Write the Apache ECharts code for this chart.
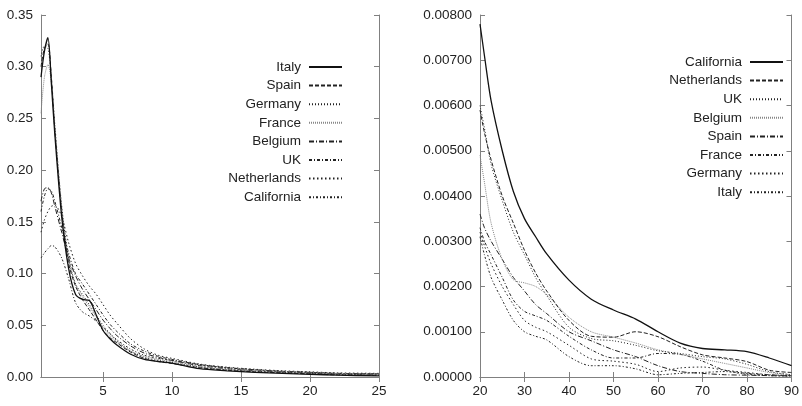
<!DOCTYPE html>
<html><head><meta charset="utf-8">
<script src="https://cdn.jsdelivr.net/npm/echarts@6/dist/echarts.min.js"></script>
<style>html,body{margin:0;padding:0;background:#fff}#c{width:802px;height:406px}</style>
</head><body><div id="c"></div>
<script>
// ---- Left panel data ----
const leftX = [0.5, 0.75, 1, 1.25, 1.5, 2, 2.5, 3, 3.5, 4, 4.5, 5, 5.5, 6, 7, 8, 9, 10, 12, 14, 16, 18, 20, 22, 25];
const leftNames = ['Italy', 'Spain', 'Germany', 'France', 'Belgium', 'UK', 'Netherlands', 'California'];
const leftItaly      = [0.290,0.315,0.328,0.284,0.235,0.155,0.105,0.080,0.075,0.074,0.060,0.045,0.037,0.031,0.022,0.017,0.015,0.0135,0.008,0.006,0.0045,0.0035,0.0026,0.0018,0.001];
const leftSpain      = [0.300,0.318,0.322,0.290,0.240,0.160,0.110,0.088,0.075,0.065,0.055,0.045,0.038,0.033,0.024,0.018,0.015,0.013,0.009,0.0065,0.005,0.004,0.003,0.002,0.0015];
const leftGermany    = [0.310,0.320,0.318,0.290,0.245,0.165,0.115,0.090,0.080,0.070,0.060,0.050,0.042,0.035,0.025,0.019,0.016,0.014,0.0095,0.007,0.0055,0.0045,0.0035,0.0025,0.002];
const leftFrance     = [0.255,0.290,0.302,0.285,0.240,0.165,0.115,0.090,0.078,0.068,0.058,0.048,0.040,0.034,0.025,0.020,0.017,0.015,0.010,0.0075,0.006,0.005,0.004,0.003,0.0025];
const leftBelgium    = [0.170,0.182,0.183,0.178,0.165,0.140,0.115,0.098,0.085,0.075,0.065,0.055,0.047,0.040,0.030,0.023,0.019,0.016,0.011,0.008,0.006,0.005,0.004,0.003,0.0025];
const leftUK         = [0.160,0.175,0.182,0.180,0.170,0.145,0.120,0.100,0.090,0.080,0.070,0.060,0.051,0.044,0.032,0.025,0.020,0.017,0.012,0.009,0.007,0.0055,0.0045,0.0035,0.003];
const leftNetherlands= [0.140,0.152,0.160,0.165,0.166,0.155,0.130,0.110,0.098,0.088,0.080,0.070,0.060,0.052,0.037,0.027,0.021,0.018,0.0125,0.0095,0.0075,0.006,0.005,0.004,0.0035];
const leftCalifornia = [0.115,0.120,0.124,0.127,0.126,0.115,0.095,0.072,0.063,0.059,0.054,0.048,0.042,0.036,0.027,0.021,0.018,0.016,0.012,0.009,0.007,0.0055,0.0045,0.0035,0.003];
const leftTicksX = [5, 10, 15, 20, 25];

// ---- Right panel data ----
const rightX = [20, 21, 22.5, 25, 27.5, 30, 32.5, 35, 40, 45, 50, 55, 60, 65, 70, 75, 80, 85, 90];
const rightNames = ['California', 'Netherlands', 'UK', 'Belgium', 'Spain', 'France', 'Germany', 'Italy'];
const rightCalifornia = [0.0078,0.0071,0.0061,0.0050,0.0041,0.0035,0.0031,0.00272,0.00214,0.00172,0.00148,0.00128,0.00100,0.00075,0.00063,0.00060,0.00056,0.00042,0.00025];
const rightNetherlands= [0.0059,0.0054,0.0048,0.0040,0.0034,0.0028,0.0023,0.0019,0.00125,0.00090,0.00088,0.00100,0.00089,0.00067,0.00049,0.00042,0.00034,0.00015,0.00010];
const rightUK         = [0.0060,0.0055,0.0047,0.0039,0.0032,0.0027,0.0022,0.0018,0.00110,0.00085,0.00080,0.00070,0.00058,0.00052,0.00045,0.00040,0.00028,0.00012,0.00005];
const rightBelgium    = [0.0049,0.0043,0.0034,0.0026,0.00215,0.00208,0.0020,0.00182,0.00132,0.00100,0.00088,0.00075,0.00060,0.00050,0.00040,0.00030,0.00020,0.00010,0.00005];
const rightSpain      = [0.0036,0.0033,0.0030,0.0026,0.0022,0.0019,0.0016,0.0014,0.00100,0.00080,0.00060,0.00045,0.00025,0.00012,0.00008,0.00005,0.00004,0.00003,0.00002];
const rightFrance     = [0.0033,0.0030,0.0027,0.0022,0.0017,0.00145,0.00135,0.00125,0.00090,0.00060,0.00042,0.00042,0.00052,0.00050,0.00035,0.00015,0.00008,0.00005,0.00003];
const rightGermany    = [0.0032,0.0029,0.0025,0.0020,0.0016,0.00125,0.00110,0.00100,0.00070,0.00040,0.00035,0.00028,0.00012,0.00020,0.00022,0.00015,0.00010,0.00005,0.00003];
const rightItaly      = [0.0031,0.0027,0.0022,0.0017,0.00125,0.00100,0.00090,0.00082,0.00045,0.00025,0.00025,0.00018,0.00005,0.00008,0.00010,0.00012,0.00006,0.00003,0.00002];

const leftValues = [leftItaly,leftSpain,leftGermany,leftFrance,leftBelgium,leftUK,leftNetherlands,leftCalifornia];
const rightValues = [rightCalifornia,rightNetherlands,rightUK,rightBelgium,rightSpain,rightFrance,rightGermany,rightItaly];

// line styles (in legend order)
const styles = [
  {type:'solid', color:'#111', width:1.3},
  {type:[4,2], color:'#222', width:1},
  {type:[1,2], color:'#222', width:1},
  {type:[1,1], color:'#888', width:1},
  {type:[5,2,1,2], color:'#222', width:1},
  {type:[3,2,1,2], color:'#222', width:1},
  {type:[1.5,2.5], color:'#222', width:1},
  {type:[2,2,1,2], color:'#222', width:1}
];

const FONT = "'Liberation Sans', Arial, sans-serif";
const FS = 13.5;
const AX = '#808080';
const TXT = '#222';

function mk(prefix, names, xs, vals, gi) {
  return names.map((n, i) => ({
    name: prefix + n,
    type: 'line',
    xAxisIndex: gi * 2,
    yAxisIndex: gi * 2,
    data: xs.map((x, j) => [x, vals[i][j]]),
    showSymbol: false,
    symbol: 'none',
    smooth: 0.3,
    lineStyle: styles[i],
    itemStyle: {color: styles[i].color},
    z: 10 - i
  }));
}

function xAxisPair(gi, min, max, ticks, interval) {
  const base = {
    type: 'value', gridIndex: gi, min: min, max: max,
    splitLine: {show: false},
    axisLine: {show: true, lineStyle: {color: AX, width: 1}},
    axisTick: {show: true, inside: true, length: 5, lineStyle: {color: AX}}
  };
  if (ticks) {
    base.axisTick.customValues = ticks;
  } else {
    base.interval = interval;
  }
  const bottom = JSON.parse(JSON.stringify(base));
  bottom.position = 'bottom';
  bottom.axisLabel = {show: true, color: TXT, fontFamily: FONT, fontSize: FS, margin: 7};
  if (ticks) bottom.axisLabel.customValues = ticks;
  const top = JSON.parse(JSON.stringify(base));
  top.position = 'top';
  top.axisLabel = {show: false};
  return [bottom, top];
}

function yAxisPair(gi, max, interval, dec) {
  const base = {
    type: 'value', gridIndex: gi, min: 0, max: max, interval: interval,
    splitLine: {show: false},
    axisLine: {show: true, lineStyle: {color: AX, width: 1}},
    axisTick: {show: true, inside: true, length: 5, lineStyle: {color: AX}}
  };
  const left = Object.assign({}, base, {
    position: 'left',
    axisLabel: {show: true, color: TXT, fontFamily: FONT, fontSize: FS, margin: 8,
      formatter: v => Number(v).toFixed(dec)}
  });
  const right = Object.assign({}, base, {position: 'right', axisLabel: {show: false}});
  return [left, right];
}

function legend(prefix, names, right, top) {
  return {
    data: names.map(n => prefix + n),
    orient: 'vertical',
    align: 'right',
    right: right, top: top,
    padding: 0,
    itemWidth: 33, itemHeight: 14, itemGap: 4.6,
    itemStyle: {opacity: 0},
    formatter: s => s.slice(prefix.length),
    textStyle: {color: TXT, fontFamily: FONT, fontSize: FS, lineHeight: 14, padding: [0, 3, 0, 0]},
    selectedMode: false
  };
}

const chart = echarts.init(document.getElementById('c'), null, {renderer: 'canvas'});
chart.setOption({
  animation: false,
  backgroundColor: '#fff',
  grid: [
    {left: 41, top: 15, width: 338, height: 362, containLabel: false},
    {left: 480, top: 15, width: 316, height: 362, containLabel: false}
  ],
  xAxis: [].concat(xAxisPair(0, 0.5, 25, leftTicksX, null), xAxisPair(1, 20, 90, null, 10)),
  yAxis: [].concat(yAxisPair(0, 0.35, 0.05, 2), yAxisPair(1, 0.008, 0.001, 5)),
  legend: [legend('L_', leftNames, 459, 60), legend('R_', rightNames, 18, 55)],
  series: [].concat(mk('L_', leftNames, leftX, leftValues, 0), mk('R_', rightNames, rightX, rightValues, 1))
});
</script>
</body></html>
